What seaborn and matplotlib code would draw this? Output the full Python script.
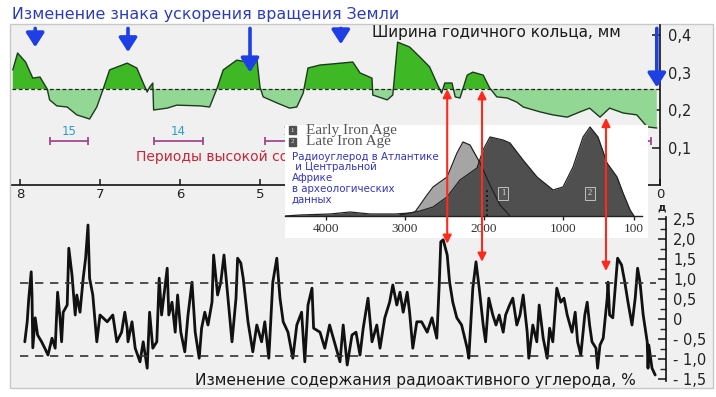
import numpy as np
import pandas as pd
import matplotlib
matplotlib.use('Agg')
import matplotlib.pyplot as plt
from matplotlib.patches import Rectangle, ConnectionPatch
import seaborn as sns

# tree ring width, mm (time in thousand years ago)
ring_t = [8.09, 8.03, 7.93, 7.84, 7.75, 7.66, 7.63, 7.54, 7.41, 7.29, 7.13, 7.04, 6.96, 6.88,
          6.66, 6.54, 6.46, 6.41, 6.38, 6.34, 6.33, 6.16, 6.04, 5.75, 5.63, 5.54, 5.46, 5.29,
          5.16, 5.04, 5.0, 4.96, 4.79, 4.63, 4.54, 4.46, 4.4, 4.25, 4.09, 3.84, 3.75, 3.6,
          3.59, 3.41, 3.34, 3.28, 3.13, 3.0, 2.88, 2.78, 2.73, 2.69, 2.6, 2.56, 2.5, 2.41,
          2.34, 2.21, 2.13, 2.04, 1.91, 1.79, 1.71, 1.5, 1.34, 1.16, 1.0, 0.88, 0.75, 0.63,
          0.46, 0.29, 0.16, 0.04]
ring_w = [0.307, 0.352, 0.328, 0.285, 0.288, 0.256, 0.227, 0.211, 0.208, 0.187, 0.176, 0.208,
          0.256, 0.307, 0.325, 0.312, 0.272, 0.248, 0.261, 0.272, 0.2, 0.205, 0.213, 0.211,
          0.208, 0.256, 0.307, 0.333, 0.328, 0.339, 0.261, 0.235, 0.219, 0.205, 0.208, 0.245,
          0.312, 0.32, 0.323, 0.328, 0.299, 0.285, 0.24, 0.227, 0.24, 0.381, 0.368, 0.341,
          0.315, 0.267, 0.245, 0.272, 0.272, 0.235, 0.232, 0.293, 0.301, 0.293, 0.259, 0.235,
          0.232, 0.221, 0.208, 0.195, 0.187, 0.181, 0.195, 0.205, 0.181, 0.205, 0.192, 0.187,
          0.155, 0.152]
ring_base = 0.256

# radiocarbon change, %
c14_t = [7.94, 7.91, 7.89, 7.86, 7.85, 7.84, 7.81, 7.78, 7.73, 7.69, 7.65, 7.6, 7.56, 7.53,
         7.5, 7.48, 7.46, 7.41, 7.39, 7.35, 7.31, 7.29, 7.25, 7.21, 7.18, 7.15, 7.13, 7.09,
         7.04, 7.0, 6.91, 6.84, 6.79, 6.73, 6.69, 6.66, 6.65, 6.6, 6.56, 6.5, 6.46, 6.41,
         6.38, 6.34, 6.29, 6.26, 6.23, 6.2, 6.16, 6.14, 6.1, 6.06, 6.03, 5.99, 5.94, 5.9,
         5.85, 5.81, 5.76, 5.73, 5.69, 5.65, 5.6, 5.58, 5.53, 5.49, 5.45, 5.4, 5.35, 5.3,
         5.28, 5.24, 5.21, 5.15, 5.09, 5.04, 4.98, 4.94, 4.89, 4.84, 4.79, 4.75, 4.71, 4.65,
         4.59, 4.54, 4.48, 4.44, 4.4, 4.35, 4.33, 4.25, 4.19, 4.13, 4.06, 4.0, 3.96, 3.91,
         3.85, 3.8, 3.75, 3.71, 3.65, 3.6, 3.54, 3.5, 3.44, 3.38, 3.34, 3.29, 3.25, 3.21,
         3.16, 3.13, 3.09, 3.04, 2.98, 2.91, 2.85, 2.79, 2.76, 2.74, 2.71, 2.66, 2.63, 2.59,
         2.54, 2.48, 2.41, 2.39, 2.34, 2.3, 2.26, 2.21, 2.18, 2.14, 2.09, 2.05, 2.01, 1.96,
         1.93, 1.88, 1.84, 1.79, 1.75, 1.71, 1.66, 1.64, 1.59, 1.54, 1.51, 1.46, 1.41, 1.38,
         1.34, 1.29, 1.24, 1.2, 1.16, 1.1, 1.06, 1.03, 0.99, 0.94, 0.91, 0.88, 0.85, 0.8,
         0.78, 0.75, 0.71, 0.66, 0.65, 0.63, 0.59, 0.54, 0.53, 0.48, 0.44, 0.4, 0.35, 0.31,
         0.28, 0.25, 0.21, 0.16, 0.15, 0.14, 0.1, 0.06]
c14_v = [-0.57, -0.07, 0.52, 1.18, 0.6, -0.72, 0.03, -0.4, -0.57, -0.73, -0.9, -0.48, -0.73,
         0.67, 0.03, -0.57, 0.17, 0.35, 1.77, 1.1, 0.1, 0.6, 0.17, 1.02, 1.52, 2.35, 1.02, 0.6,
         -0.57, 0.1, -0.07, 0.1, -0.57, -0.33, 0.17, -0.23, -0.57, -0.07, -0.73, -1.07, -0.57,
         -1.23, 0.17, -0.73, -0.57, 1.02, 0.1, 0.6, 1.27, 0.1, 0.42, -0.33, 0.6, -0.33, -0.82,
         0.1, 0.92, -0.33, -0.98, -0.23, 0.17, -0.15, 0.42, 1.6, 0.6, 0.92, 1.6, 0.52, -0.57,
         0.52, 1.52, 1.4, 1.02, -0.07, -0.82, -0.15, -0.57, -0.07, -0.98, 0.92, 1.52, 0.52,
         -0.07, -0.33, -0.98, -0.15, 0.17, -1.07, 0.35, 0.77, -0.23, -0.33, -0.73, -0.15,
         -0.65, -1.07, -0.15, -1.15, -0.4, -0.33, -0.9, -0.23, 0.52, -0.57, -0.15, -0.73,
         0.03, 0.42, 0.85, 0.35, 0.67, 0.17, 0.67, 0.17, -0.73, -0.07, -0.07, -0.33, 0.03,
         -0.48, 0.85, 1.93, 1.98, 1.6, 0.92, 0.42, 0.03, -0.15, -0.73, -0.98, 0.77, 1.43, 0.77,
         -0.15, -0.57, 0.52, 0.1, -0.15, 0.1, -0.33, 0.1, 0.35, 0.52, -0.15, 0.1, 0.6, -0.33,
         -0.98, -0.15, -0.57, 0.35, -0.48, -0.98, -0.23, -0.57, 0.77, 0.42, 0.52, 0.1, -0.33,
         0.17, -0.57, -0.9, 0.1, 0.42, -0.15, -0.57, -0.73, -1.23, -0.65, -0.48, 0.52, 0.92,
         0.1, 0.03, 1.27, 1.52, 1.35, 0.92, 0.42, -0.15, 0.52, 1.27, 0.92, 0.1, -0.57, -1.23,
         -0.65, -1.23, -1.4]
c14_bands = [0.9, -0.92]

# archaeological radiocarbon dates (years BP), relative density
early_yr = [3063, 2873, 2721, 2645, 2468, 2342, 2266, 2177, 2050, 1924, 1797, 1671]
early_d = [1, 4, 21, 29, 39, 63, 74, 71, 53, 31, 11, 0]
late_yr = [4519, 4329, 3949, 3696, 3443, 3126, 2937, 2810, 2645, 2468, 2304, 2088, 2012, 1924,
           1759, 1671, 1506, 1329, 1126, 1000, 873, 746, 658, 557, 443, 316, 240, 151, 101]
late_d = [0, 1, 2, 4, 2, 2, 3, 5, 9, 19, 36, 48, 66, 79, 76, 73, 56, 39, 26, 29, 49, 79, 89,
          79, 53, 39, 23, 6, 0]
bp_ticks = [4000, 3000, 2000, 1000, 100]

# annotations
arrow_t = [7.81, 6.65, 5.125, 3.99, 0.04]
arrow_tip = [0.36, 0.347, 0.293, 0.368, 0.253]
link_t = [2.66, 2.225, 0.675]
link_top = [0.256, 0.253, 0.179]
link_bot = [1.88, 1.43, 1.2]
period_start = [7.625, 6.325, 4.94, 1.0]
period_end = [7.15, 5.71, 4.3, 0.11]
period_num = ['15', '14', '13', '']
period_mid = [7.39, 6.02, 4.625, 0.55]

sns.set_theme(style='white')
plt.rcParams['font.family'] = ['DejaVu Sans']

W, H = 716, 397
fig = plt.figure(figsize=(W / 100, H / 100), dpi=100)


def box(l, t, r, b):
    return [l / W, 1 - b / H, (r - l) / W, (b - t) / H]


# grey panel behind everything
bg = fig.add_axes([0, 0, 1, 1], zorder=-1)
bg.set_xlim(0, W)
bg.set_ylim(H, 0)
bg.axis('off')
bg.add_patch(Rectangle((10, 24), 703, 364, facecolor='#f0f0f0', edgecolor='#c8c8c8', lw=1))

# ---- top: tree rings
ax = fig.add_axes(box(12, 25, 660, 185))
ax.patch.set_alpha(0)
rw = np.array(ring_w)
ax.fill_between(ring_t, ring_w, ring_base, where=rw >= ring_base, interpolate=True,
                color='#3fb826', lw=0)
ax.fill_between(ring_t, ring_w, ring_base, where=rw <= ring_base, interpolate=True,
                color='#93d794', lw=0)
ring = pd.DataFrame({'t': ring_t, 'w': ring_w})
sns.lineplot(data=ring, x='t', y='w', sort=False, color='#1e3a1e', lw=1, ax=ax)
ax.axhline(ring_base, color='#222', ls=(0, (3, 2)), lw=0.9)
ax.set_xlim(8.1, 0)
ax.set_ylim(0, 0.4267)
ax.set_xlabel('')
ax.set_ylabel('')
for s in ['top', 'left']:
    ax.spines[s].set_visible(False)
for s in ['right', 'bottom']:
    ax.spines[s].set_color('#111')
    ax.spines[s].set_linewidth(1.2)
ax.yaxis.tick_right()
ax.set_yticks([0.1, 0.2, 0.3, 0.4])
ax.set_yticklabels(['0,1', '0,2', '0,3', '0,4'])
# 4..1 lie under the inset
ax.set_xticks([8, 7, 6, 5, 0])
ax.set_xticklabels(['8', '7', '6', '5', '0'])
ax.tick_params(axis='y', right=True, left=False, direction='in', length=6, width=1.2,
               pad=6, labelsize=10.5, labelcolor='#222')
ax.tick_params(axis='x', bottom=True, direction='in', length=4, width=1.2, pad=2,
               labelsize=9.5, labelcolor='#222')

for a, b, num, m in zip(period_start, period_end, period_num, period_mid):
    ax.plot([a, b], [0.117, 0.117], color='#a04a8e', lw=1.3, marker='|', ms=6, mew=1.3)
    if num:
        ax.text(m, 0.143, num, color='#2a9fc2', fontsize=8.5, ha='center', va='center')
ax.text(6.55, 0.075, 'Периоды высокой солнечной активности', color='#c3283a',
        fontsize=10, ha='left', va='center')

for t, tip in zip(arrow_t, arrow_tip):
    ax.annotate('', xy=(t, tip), xytext=(t, 0.425),
                arrowprops=dict(arrowstyle='-|>,head_length=0.5,head_width=0.32',
                                mutation_scale=17, color='#1e3fe3', lw=2.6))

fig.text(12 / W, 1 - 15 / H, 'Изменение знака ускорения вращения Земли', color='#2c3db4',
         fontsize=11.4, ha='left', va='center')
fig.text(372 / W, 1 - 32 / H, 'Ширина годичного кольца, мм', color='#1a1a1a',
         fontsize=11, ha='left', va='center')
fig.text(662 / W, 1 - 208 / H, 'д', color='#222', fontsize=7.5, fontweight='bold',
         ha='center', va='center')

# ---- bottom: radiocarbon
ax2 = fig.add_axes(box(12, 217, 666, 381))
ax2.patch.set_alpha(0)
sns.lineplot(x=c14_t, y=c14_v, sort=False, color='#111', lw=2, ax=ax2)
for lv in c14_bands:
    ax2.axhline(lv, xmin=0.012, xmax=0.985, color='#333', ls=(0, (5, 4)), lw=1.2)
ax2.set_xlim(8.1, -0.075)
ax2.set_ylim(-1.55, 2.55)
for s in ['top', 'left', 'bottom']:
    ax2.spines[s].set_visible(False)
ax2.spines['right'].set_color('#111')
ax2.spines['right'].set_linewidth(1.2)
ax2.set_xticks([])
ax2.yaxis.tick_right()
yt = [-1.5, -1.0, -0.5, 0, 0.5, 1.0, 1.5, 2.0, 2.5]
ax2.set_yticks(yt)
ax2.set_yticklabels(['- 1,5', '- 1,0', '- 0,5', '0', '0,5', '1,0', '1,5', '2,0', '2,5'])
ax2.set_yticks(np.arange(-1.25, 2.5, 0.5), minor=True)
ax2.tick_params(axis='y', which='major', right=True, left=False, direction='in', length=6,
                width=1.2, pad=5, labelsize=10.5, labelcolor='#222')
ax2.tick_params(axis='y', which='minor', right=True, left=False, direction='in', length=4,
                width=1.0)
fig.text(195 / W, 1 - 381 / H, 'Изменение содержания радиоактивного углерода, %',
         color='#1a1a1a', fontsize=11.2, ha='left', va='center')

# ---- inset: iron age dates
ax3 = fig.add_axes(box(285, 125, 648, 238), zorder=3)
ax3.set_facecolor('white')
ax3.fill_between(early_yr, early_d, 0, color='#a5a5a5', lw=0)
sns.lineplot(x=early_yr, y=early_d, sort=False, color='#222', lw=0.9, ax=ax3)
ax3.fill_between(late_yr, late_d, 0, color='#4f4f4f', lw=0)
sns.lineplot(x=late_yr, y=late_d, sort=False, color='#222', lw=0.9, ax=ax3)
ax3.plot([1962, 1962], [0, 26], ls=':', color='#111', lw=1.3)
for yr, lab in [(1759, '1'), (658, '2')]:
    ax3.text(yr, 23, lab, color='#e0e0e0', fontsize=6, ha='center', va='center',
             family='Liberation Serif',
             bbox=dict(boxstyle='square,pad=0.3', fc='#555', ec='#c0c0c0', lw=0.7))
ax3.set_xlim(4519, -76)
ax3.set_ylim(-22, 91)
ax3.set_xlabel('')
ax3.set_ylabel('')
for s in ['top', 'left', 'right']:
    ax3.spines[s].set_visible(False)
ax3.spines['bottom'].set_position(('data', 0))
ax3.spines['bottom'].set_bounds(4519, 0)
ax3.spines['bottom'].set_color('#222')
ax3.spines['bottom'].set_linewidth(1)
ax3.set_yticks([])
ax3.set_xticks(bp_ticks)
ax3.set_xticklabels([str(v) for v in bp_ticks], family='Liberation Serif')
ax3.tick_params(axis='x', bottom=True, direction='out', length=3, width=1, pad=2,
                labelsize=9.5, labelcolor='#333')

for i, lab in enumerate(['Early Iron Age', 'Late Iron Age']):
    y = 0.955 - i * 0.105
    ax3.text(0.02, y, str(i + 1), transform=ax3.transAxes, color='#e8e8e8', fontsize=5,
             ha='center', va='center', family='Liberation Serif',
             bbox=dict(boxstyle='square,pad=0.25', fc='#505050', ec='#505050'))
    ax3.text(0.058, y, lab, transform=ax3.transAxes, color='#555', fontsize=11,
             ha='left', va='center', family='Liberation Serif')
ax3.text(0.019, 0.765, 'Радиоуглерод в Атлантике\n и Центральной\nАфрике\nв археологических\nданных',
         transform=ax3.transAxes, color='#3636b8', fontsize=7.4, ha='left', va='top',
         linespacing=1.1)

# red links between the panels
for t, a, b in zip(link_t, link_top, link_bot):
    con = ConnectionPatch(xyA=(t, b), coordsA=ax2.transData, xyB=(t, a), coordsB=ax.transData,
                          arrowstyle='<|-|>,head_length=0.5,head_width=0.25', mutation_scale=10,
                          color='#ff2a1a', lw=1.5)
    con.set_zorder(6)
    fig.add_artist(con)

fig.savefig('out.png', dpi=100)
